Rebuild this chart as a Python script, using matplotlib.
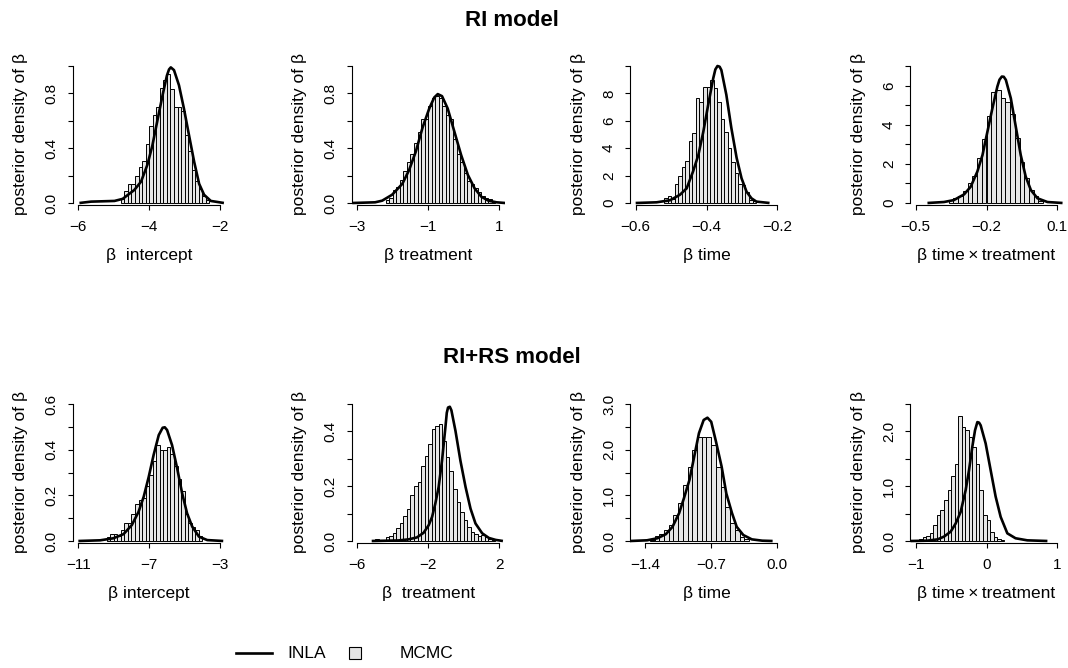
import numpy as np
import matplotlib.pyplot as plt
from matplotlib.lines import Line2D
from matplotlib.patches import Rectangle

plt.rcParams['font.family'] = ['Liberation Sans', 'DejaVu Sans']

W, H = 1068, 668

# ---- RI model ----
# intercept
ri_int_start, ri_int_bw = -4.8, 0.1
ri_int_hist = [0.03, 0.09, 0.14, 0.14, 0.20, 0.26, 0.31, 0.43, 0.56, 0.64, 0.70, 0.84, 0.90,
               0.94, 0.83, 0.70, 0.70, 0.67, 0.50, 0.38, 0.24, 0.16, 0.10, 0.05, 0.02]
ri_int_x = [-5.97, -5.64, -4.98, -4.75, -4.42, -4.23, -4.05, -3.91, -3.77, -3.62, -3.50, -3.44,
            -3.39, -3.30, -3.16, -3.02, -2.88, -2.73, -2.59, -2.45, -2.26, -1.89]
ri_int_y = [0.0, 0.01, 0.015, 0.03, 0.095, 0.156, 0.28, 0.42, 0.60, 0.79, 0.93, 0.975,
            0.99, 0.97, 0.86, 0.69, 0.50, 0.30, 0.14, 0.06, 0.015, 0.0]

# treatment
ri_trt_start, ri_trt_bw = -2.2, 0.1
ri_trt_hist = [0.02, 0.035, 0.095, 0.12, 0.17, 0.23, 0.30, 0.36, 0.44, 0.52, 0.61, 0.61, 0.71,
               0.77, 0.78, 0.77, 0.71, 0.64, 0.61, 0.47, 0.36, 0.30, 0.22, 0.16, 0.14, 0.11,
               0.08, 0.05, 0.04, 0.03, 0.015]
ri_trt_x = [-3.14, -2.50, -2.30, -2.02, -1.73, -1.54, -1.35, -1.16, -0.97, -0.83, -0.73, -0.61,
            -0.45, -0.26, -0.07, 0.12, 0.31, 0.50, 0.70, 0.93, 1.17]
ri_trt_y = [0.0, 0.005, 0.017, 0.06, 0.14, 0.24, 0.375, 0.55, 0.69, 0.77, 0.795, 0.78,
            0.69, 0.52, 0.35, 0.205, 0.107, 0.046, 0.017, 0.005, 0.0]

# time
ri_time_start, ri_time_bw = -0.52, 0.01
ri_time_hist = [0.4, 0.5, 0.3, 1.4, 2.0, 2.6, 3.1, 4.5, 5.1, 7.7, 7.4, 8.5, 8.5, 9.0, 8.4,
                7.4, 6.1, 5.2, 4.0, 3.0, 2.2, 1.4, 1.3, 0.8, 0.2, 0.15]
ri_time_x = [-0.600, -0.541, -0.503, -0.475, -0.456, -0.438, -0.423, -0.409, -0.395, -0.381,
             -0.375, -0.369, -0.363, -0.358, -0.344, -0.330, -0.315, -0.301, -0.287, -0.273,
             -0.259, -0.222]
ri_time_y = [0.0, 0.05, 0.2, 0.6, 1.07, 2.3, 3.5, 5.2, 7.2, 9.1,
             9.75, 10.0, 9.95, 9.7, 7.9, 5.5, 3.3, 1.8, 0.83, 0.34, 0.1, 0.0]

# time x treatment
ri_txt_start, ri_txt_bw = -0.36, 0.02
ri_txt_hist = [0.14, 0.24, 0.37, 0.61, 1.0, 1.4, 2.3, 3.27, 4.46, 5.66, 5.78, 5.35, 5.18,
               4.53, 3.34, 2.08, 1.26, 0.66, 0.37, 0.10]
ri_txt_x = [-0.450, -0.380, -0.338, -0.295, -0.267, -0.239, -0.217, -0.196, -0.175, -0.154,
            -0.145, -0.135, -0.127, -0.118, -0.097, -0.076, -0.055, -0.034, -0.012, 0.016,
            0.058, 0.122]
ri_txt_y = [0.0, 0.05, 0.15, 0.44, 0.83, 1.6, 2.45, 3.65, 4.84, 5.95,
            6.3, 6.46, 6.45, 6.29, 5.35, 3.9, 2.45, 1.35, 0.66, 0.24, 0.05, 0.0]

# ---- RI+RS model ----
rs_int_start, rs_int_bw = -9.4, 0.2
rs_int_hist = [0.016, 0.03, 0.03, 0.02, 0.05, 0.08, 0.08, 0.12, 0.16, 0.18, 0.19, 0.24, 0.29,
               0.35, 0.42, 0.40, 0.40, 0.41, 0.38, 0.33, 0.27, 0.22, 0.12, 0.08, 0.06, 0.05, 0.02]
rs_int_x = [-11.0, -9.77, -9.02, -8.45, -7.98, -7.60, -7.31, -7.03, -6.75, -6.46, -6.24,
            -6.12, -5.99, -5.71, -5.42, -5.14, -4.86, -4.57, -4.19, -3.72, -2.82]
rs_int_y = [0.0, 0.003, 0.012, 0.03, 0.07, 0.128, 0.194, 0.28, 0.377, 0.464, 0.496,
            0.498, 0.486, 0.42, 0.318, 0.209, 0.121, 0.063, 0.019, 0.004, 0.0]

rs_trt_start, rs_trt_bw = -5.2, 0.2
rs_trt_hist = [0.005, 0.008, 0.003, 0.003, 0.013, 0.018, 0.03, 0.046, 0.064, 0.09, 0.118,
               0.167, 0.20, 0.215, 0.275, 0.31, 0.354, 0.408, 0.42, 0.426, 0.366, 0.306,
               0.257, 0.19, 0.142, 0.106, 0.078, 0.052, 0.034, 0.025, 0.018, 0.022, 0.013,
               0.008, 0.005]
rs_trt_x = [-5.19, -3.67, -3.11, -2.64, -2.26, -1.97, -1.78, -1.60, -1.41, -1.22, -1.03,
            -0.95, -0.88, -0.78, -0.69, -0.46, -0.18, 0.11, 0.39, 0.67, 1.05, 1.43, 1.81, 2.22]
rs_trt_y = [0.0, 0.002, 0.006, 0.013, 0.03, 0.058, 0.088, 0.136, 0.197, 0.293, 0.414,
            0.468, 0.487, 0.49, 0.477, 0.402, 0.293, 0.197, 0.118, 0.064, 0.028, 0.011,
            0.004, 0.0]

rs_time_start, rs_time_bw = -1.35, 0.05
rs_time_hist = [0.02, 0.12, 0.15, 0.24, 0.35, 0.58, 0.84, 1.23, 1.63, 2.0, 2.27, 2.27, 2.27,
                2.1, 1.63, 1.19, 0.75, 0.39, 0.24, 0.095, 0.04]
rs_time_x = [-1.56, -1.38, -1.27, -1.18, -1.11, -1.04, -0.99, -0.93, -0.88, -0.83, -0.78,
             -0.74, -0.70, -0.65, -0.59, -0.54, -0.48, -0.43, -0.36, -0.27, -0.16, -0.05]
rs_time_y = [0.0, 0.015, 0.06, 0.15, 0.31, 0.61, 0.93, 1.34, 1.85, 2.36, 2.65,
             2.70, 2.61, 2.18, 1.63, 1.04, 0.61, 0.31, 0.13, 0.036, 0.007, 0.0]

rs_txt_start, rs_txt_bw = -0.95, 0.05
rs_txt_hist = [0.03, 0.08, 0.09, 0.14, 0.29, 0.47, 0.56, 0.75, 0.93, 1.18, 1.41, 2.29, 2.08,
               2.02, 1.90, 1.72, 1.41, 0.93, 0.47, 0.38, 0.17, 0.08, 0.04, 0.02]
rs_txt_x = [-1.07, -0.835, -0.69, -0.60, -0.506, -0.435, -0.365, -0.294, -0.247, -0.20,
            -0.162, -0.129, -0.105, -0.082, -0.012, 0.059, 0.129, 0.20, 0.294, 0.41, 0.576,
            0.86]
rs_txt_y = [0.0, 0.006, 0.03, 0.08, 0.17, 0.32, 0.53, 0.93, 1.29, 1.72,
            2.02, 2.17, 2.16, 2.11, 1.78, 1.29, 0.81, 0.44, 0.14, 0.05, 0.012, 0.0]

# axis settings per panel
x_ranges = [(-6, -2), (-3, 1), (-0.6, -0.2), (-0.5, 0.1),
            (-11, -3), (-6, 2), (-1.5, 0), (-1, 1)]
x_ticks = [[-6, -4, -2], [-3, -1, 1], [-0.6, -0.4, -0.2], [-0.5, -0.2, 0.1],
           [-11, -7, -3], [-6, -2, 2], [-1.4, -0.7, 0.0], [-1, 0, 1]]
x_ticklabels = [["−6", "−4", "−2"], ["−3", "−1", "1"], ["−0.6", "−0.4", "−0.2"],
                ["−0.5", "−0.2", "0.1"], ["−11", "−7", "−3"], ["−6", "−2", "2"],
                ["−1.4", "−0.7", "0.0"], ["−1", "0", "1"]]
y_tops = [1.0, 1.0, 10, 7, 0.6, 0.5, 3.0, 2.5]
y_steps = [0.2, 0.2, 2, 1, 0.1, 0.1, 0.5, 0.5]
y_labelled = [["0.0", "", "0.4", "", "0.8", ""],
              ["0.0", "", "0.4", "", "0.8", ""],
              ["0", "2", "4", "6", "8", ""],
              ["0", "", "2", "", "4", "", "6", ""],
              ["0.0", "", "0.2", "", "0.4", "", "0.6"],
              ["0.0", "", "0.2", "", "0.4", ""],
              ["0.0", "", "1.0", "", "2.0", "", "3.0"],
              ["0.0", "", "1.0", "", "2.0", ""]]
x_labels = ["β  intercept", "β treatment", "β time", "β time\u2009×\u2009treatment",
            "β intercept", "β  treatment", "β time", "β time\u2009×\u2009treatment"]

hists = [(ri_int_start, ri_int_bw, ri_int_hist), (ri_trt_start, ri_trt_bw, ri_trt_hist),
         (ri_time_start, ri_time_bw, ri_time_hist), (ri_txt_start, ri_txt_bw, ri_txt_hist),
         (rs_int_start, rs_int_bw, rs_int_hist), (rs_trt_start, rs_trt_bw, rs_trt_hist),
         (rs_time_start, rs_time_bw, rs_time_hist), (rs_txt_start, rs_txt_bw, rs_txt_hist)]
curves = [(ri_int_x, ri_int_y), (ri_trt_x, ri_trt_y), (ri_time_x, ri_time_y),
          (ri_txt_x, ri_txt_y), (rs_int_x, rs_int_y), (rs_trt_x, rs_trt_y),
          (rs_time_x, rs_time_y), (rs_txt_x, rs_txt_y)]

BAR_COLOR = "#e5e5e5"
TICK_FS = 11
LABEL_FS = 12.5


def px_axes(fig, left, top, width, height):
    return fig.add_axes([left / W, 1 - (top + height) / H, width / W, height / H])


def draw_panel(ax, i):
    a, b = x_ranges[i]
    ext = 0.04 * (b - a)
    ytop = y_tops[i]
    s = ytop / 137.0
    ax.set_xlim(a - ext, b + ext)
    ax.set_ylim(-2 * s, ytop + 4 * s)

    start, bw, heights = hists[i]
    heights = np.array(heights)
    lefts = start + bw * np.arange(len(heights))
    ax.bar(lefts, heights, width=bw, align="edge", color=BAR_COLOR,
           edgecolor="black", linewidth=0.7)
    cx, cy = curves[i]
    ax.plot(cx, cy, color="black", lw=1.9, solid_capstyle="butt", solid_joinstyle="round")

    for side in ("top", "right"):
        ax.spines[side].set_visible(False)
    ax.spines["left"].set_bounds(0, ytop)
    ax.spines["bottom"].set_bounds(x_ticks[i][0], x_ticks[i][-1])
    for side in ("left", "bottom"):
        ax.spines[side].set_linewidth(0.8)

    ax.set_xticks(x_ticks[i])
    ax.set_xticklabels(x_ticklabels[i], fontsize=TICK_FS)
    yt = np.arange(len(y_labelled[i])) * y_steps[i]
    ax.set_yticks(yt)
    ax.set_yticklabels(y_labelled[i], fontsize=TICK_FS, rotation=90, va="center")
    ax.tick_params(axis="both", direction="out", length=3.6, width=0.8)
    ax.tick_params(axis="x", pad=7.5)
    ax.tick_params(axis="y", pad=6.5)

    ax.set_ylabel("posterior density of β", fontsize=LABEL_FS)
    ax.yaxis.set_label_coords(-0.29, 0.5)
    ax.set_xlabel(x_labels[i], fontsize=LABEL_FS, va="top")
    ax.xaxis.set_label_coords(0.5, -0.30)


def main():
    fig = plt.figure(figsize=(W / 100, H / 100), dpi=100)
    lefts = [72.7, 351.7, 630, 910]
    tops = [62, 400]
    for i in range(8):
        row, col = divmod(i, 4)
        ax = px_axes(fig, lefts[col], tops[row], 153, 143)
        draw_panel(ax, i)

    title_x = 512 / W
    fig.text(title_x, 1 - 20 / H, "RI model", ha="center", va="center",
             fontsize=16, fontweight="bold")
    fig.text(title_x, 1 - 358 / H, "RI+RS model", ha="center", va="center",
             fontsize=16, fontweight="bold")

    # legend row at the bottom
    ly = 1 - 653 / H
    fig.add_artist(Line2D([236 / W, 272 / W], [ly, ly], color="black", lw=1.9,
                          transform=fig.transFigure))
    fig.text(287 / W, ly, "INLA", ha="left", va="center", fontsize=LABEL_FS)
    fig.add_artist(Rectangle((349 / W, ly - 6 / H), 12 / W, 12 / H, facecolor=BAR_COLOR,
                             edgecolor="black", lw=0.8, transform=fig.transFigure))
    fig.text(400 / W, ly, "MCMC", ha="left", va="center", fontsize=LABEL_FS)

    fig.savefig("out.png", dpi=100)
    plt.close(fig)


if __name__ == "__main__":
    main()
